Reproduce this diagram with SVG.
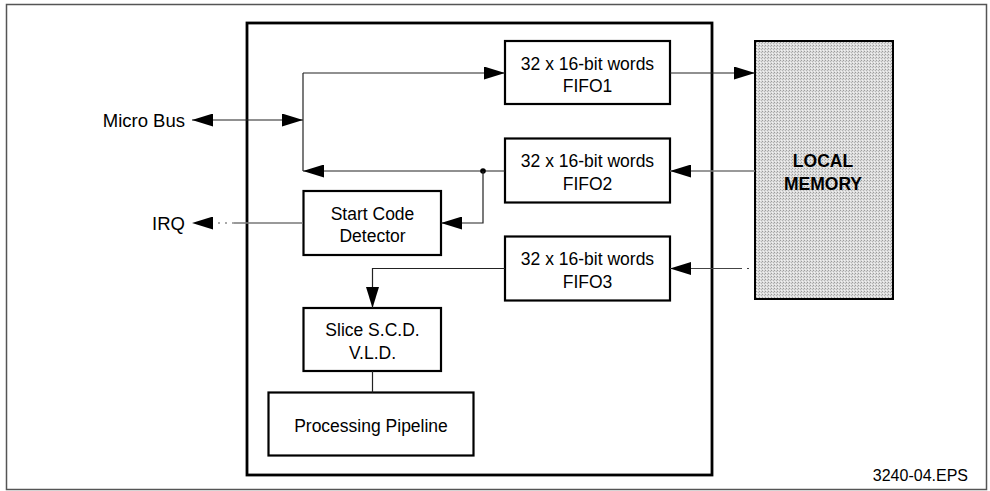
<svg xmlns="http://www.w3.org/2000/svg" width="990" height="491" viewBox="0 0 990 491">
  <defs>
    <marker id="arr" viewBox="0 0 21 13" markerWidth="21" markerHeight="13" refX="21" refY="6.5" orient="auto-start-reverse" markerUnits="userSpaceOnUse">
      <path d="M0,0 L21,6.5 L0,13 Z" fill="#000"/>
    </marker>
    <pattern id="stipple" width="3" height="3" patternUnits="userSpaceOnUse">
      <rect width="3" height="3" fill="#dcdcdc"/>
      <rect x="0" y="0" width="1" height="1" fill="#9c9c9c"/>
      <rect x="2" y="1" width="1" height="1" fill="#b4b4b4"/>
      <rect x="1" y="2" width="1" height="1" fill="#f2f2f2"/>
    </pattern>
  </defs>
  <style>
    .frame { fill: none; stroke: #555; stroke-width: 1.5; }
    .chip { fill: none; stroke: #000; stroke-width: 2.8; }
    .box { fill: #fff; stroke: #000; stroke-width: 2.2; }
    .mem { fill: url(#stipple); stroke: #000; stroke-width: 2; }
    .t { font-family: "Liberation Sans", Arial, sans-serif; font-size: 17.5px; fill: #000; text-anchor: middle; }
    .lbl { font-family: "Liberation Sans", Arial, sans-serif; font-size: 18.5px; fill: #000; text-anchor: end; }
    .b { font-weight: bold; }
    .c { fill: none; stroke: #222; stroke-width: 1.2; }
    .g { fill: none; stroke: #777; stroke-width: 1.3; }
    .dot { fill: none; stroke: #555; stroke-width: 1.2; stroke-dasharray: 2 5; }
    .d { fill: none; stroke: #444; stroke-width: 1.2; stroke-dasharray: 72 5 2 7; }
    .ref { font-family: "Liberation Sans", Arial, sans-serif; font-size: 16px; fill: #000; text-anchor: end; }
  </style>

  <rect class="frame" x="6.5" y="4.5" width="980" height="485"/>
  <rect class="chip" x="247" y="23" width="465" height="452"/>

  <g id="fifo1">
    <rect class="box" x="505" y="41" width="165" height="63"/>
    <text class="t" x="587.5" y="70">32 x 16-bit words</text>
    <text class="t" x="587.5" y="92">FIFO1</text>
  </g>
  <g id="fifo2">
    <rect class="box" x="505" y="138.5" width="165" height="64"/>
    <text class="t" x="587.5" y="167">32 x 16-bit words</text>
    <text class="t" x="587.5" y="189.5">FIFO2</text>
  </g>
  <g id="fifo3">
    <rect class="box" x="505" y="236.5" width="165" height="64"/>
    <text class="t" x="587.5" y="265">32 x 16-bit words</text>
    <text class="t" x="587.5" y="287.5">FIFO3</text>
  </g>
  <g id="scd">
    <rect class="box" x="303.5" y="191" width="137.5" height="64"/>
    <text class="t" x="372.5" y="219.5">Start Code</text>
    <text class="t" x="372.5" y="242">Detector</text>
  </g>
  <g id="slice">
    <rect class="box" x="303.5" y="308" width="137.5" height="63"/>
    <text class="t" x="372.5" y="336">Slice S.C.D.</text>
    <text class="t" x="372.5" y="359">V.L.D.</text>
  </g>
  <g id="pipeline">
    <rect class="box" x="268.5" y="392.5" width="205" height="63"/>
    <text class="t" x="371" y="431.5">Processing Pipeline</text>
  </g>
  <g id="memory">
    <rect class="mem" x="755" y="41" width="138" height="258"/>
    <text class="t b" x="823" y="166.5">LOCAL</text>
    <text class="t b" x="823" y="190">MEMORY</text>
  </g>
  <g id="microbus">
    <text class="lbl" x="185" y="127">Micro Bus</text>
  </g>
  <g id="irq">
    <text class="lbl" x="185" y="230">IRQ</text>
  </g>
  <text class="ref" x="968" y="481">3240-04.EPS</text>

  <g id="connectors">
    <line class="c" x1="192" y1="120" x2="303" y2="120" marker-start="url(#arr)" marker-end="url(#arr)"/>
    <line class="c" x1="303" y1="73" x2="303" y2="171"/>
    <line class="c" x1="303" y1="73" x2="505" y2="73" marker-end="url(#arr)"/>
    <line class="c" x1="505" y1="171" x2="303" y2="171" marker-end="url(#arr)"/>
    <circle cx="483" cy="171" r="2.8" fill="#000"/>
    <polyline class="c" points="483,171 483,223 441,223" marker-end="url(#arr)"/>
    <line class="g" x1="303" y1="223" x2="234" y2="223"/>
    <line class="dot" x1="234" y1="223" x2="192" y2="223" marker-end="url(#arr)"/>
    <line class="c" x1="670" y1="73" x2="755" y2="73" marker-end="url(#arr)"/>
    <line class="g" x1="755" y1="171" x2="670" y2="171" marker-end="url(#arr)"/>
    <line class="d" x1="670" y1="268.5" x2="755" y2="268.5" marker-start="url(#arr)"/>
    <polyline class="c" points="505,268.5 372.5,268.5 372.5,308" marker-end="url(#arr)"/>
    <line class="c" x1="372.5" y1="371" x2="372.5" y2="392.5"/>
  </g>
</svg>
